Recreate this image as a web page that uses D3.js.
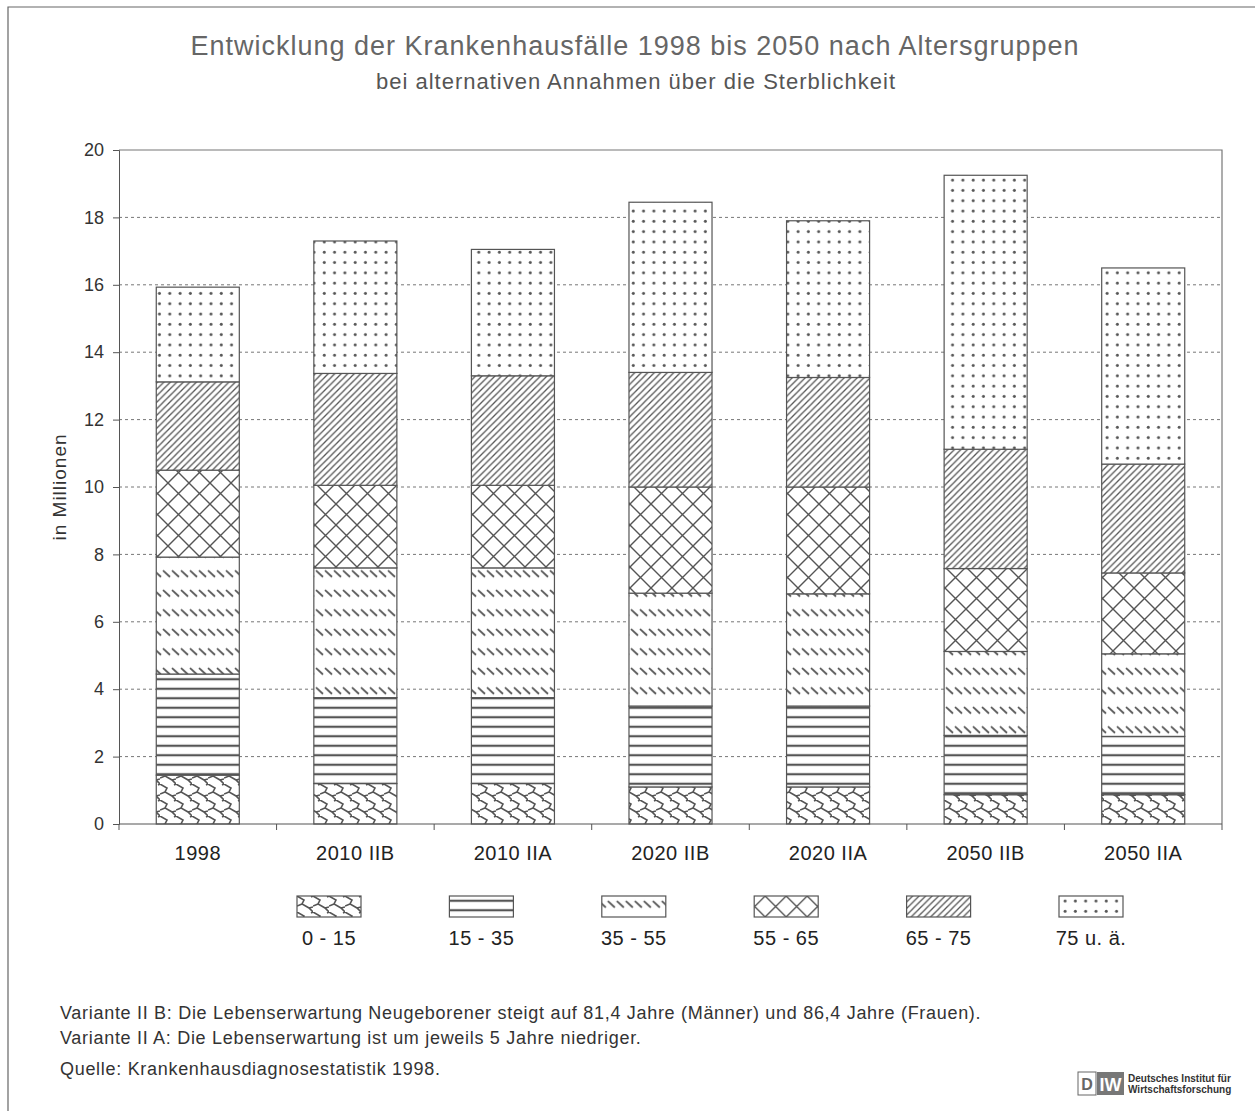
<!DOCTYPE html>
<html>
<head>
<meta charset="utf-8" />
<title>Krankenhausfälle nach Altersgruppen</title>
<style>
body { margin: 0; background: #fff; }
text { font-family: "Liberation Sans", Arial, sans-serif; fill: #333; }
</style>
</head>
<body>
<div id="chart"></div>
<script src="https://d3js.org/d3.v7.min.js"></script>
<script>
(function(d3) {
	'use strict';

	// values in Mio. cases
	var categories = ['1998', '2010 IIB', '2010 IIA', '2020 IIB', '2020 IIA', '2050 IIB', '2050 IIA'];
	var ageGroups = ['0 - 15', '15 - 35', '35 - 55', '55 - 65', '65 - 75', '75 u. ä.'];
	var age0to15 = [1.45, 1.2, 1.2, 1.1, 1.1, 0.87, 0.87];
	var age15to35 = [3.0, 2.55, 2.55, 2.4, 2.4, 1.76, 1.73];
	var age35to55 = [3.47, 3.85, 3.85, 3.35, 3.33, 2.49, 2.45];
	var age55to65 = [2.58, 2.45, 2.45, 3.15, 3.17, 2.46, 2.4];
	var age65to75 = [2.62, 3.32, 3.25, 3.4, 3.25, 3.54, 3.23];
	var age75plus = [2.81, 3.93, 3.75, 5.05, 4.65, 8.13, 5.82];
	var yTicks = [0, 2, 4, 6, 8, 10, 12, 14, 16, 18, 20];

	var series = [age0to15, age15to35, age35to55, age55to65, age65to75, age75plus];
	var table = categories.map(function(c, i) {
		var row = { cat: c };
		ageGroups.forEach(function(g, j) { row[g] = series[j][i]; });
		return row;
	});

	var width = 1255, height = 1111;
	var margin = { left: 119, right: 33, top: 150, bottom: 287 };
	var ink = '#555';

	var svg = d3.select('#chart').append('svg')
		.attr('width', width).attr('height', height);

	// patterns
	var defs = svg.append('defs');
	function pattern(id, w, h) {
		var p = defs.append('pattern').attr('id', id)
			.attr('patternUnits', 'userSpaceOnUse')
			.attr('width', w).attr('height', h);
		p.append('rect').attr('width', w).attr('height', h).attr('fill', '#fff');
		return p;
	}
	var p0 = pattern('p0', 16, 16);
	p0.append('path').attr('d', 'M0,0 L7,4 L5,8 L12,12 L16,16 M5,8 L0,10 M12,12 L16,11 M16,0 L14,1')
		.attr('fill', 'none').attr('stroke', ink).attr('stroke-width', 1.6);
	var p1 = pattern('p1', 10, 9.5);
	p1.append('line').attr('x1', 0).attr('x2', 10).attr('y1', 4.75).attr('y2', 4.75)
		.attr('stroke', ink).attr('stroke-width', 2.2);
	var p2 = pattern('p2', 9, 19.5);
	p2.append('line').attr('x1', 1).attr('y1', 5).attr('x2', 8).attr('y2', 11.5)
		.attr('stroke', ink).attr('stroke-width', 1.8);
	var p3 = pattern('p3', 21, 21);
	p3.append('path').attr('d', 'M0,0 L21,21 M21,0 L0,21')
		.attr('stroke', ink).attr('stroke-width', 1.4);
	var p4 = pattern('p4', 6.5, 6.5);
	p4.append('path').attr('d', 'M-1,7.5 L7.5,-1 M-1,1 L1,-1 M5.5,7.5 L7.5,5.5')
		.attr('stroke', ink).attr('stroke-width', 1.3);
	var p5 = pattern('p5', 10.3, 10.3);
	p5.append('circle').attr('cx', 5).attr('cy', 5).attr('r', 1.5).attr('fill', ink);
	var fills = ['url(#p0)', 'url(#p1)', 'url(#p2)', 'url(#p3)', 'url(#p4)', 'url(#p5)'];

	// outer frame (top and left edge)
	svg.append('path').attr('d', 'M8,1111 L8,7 L1255,7')
		.attr('fill', 'none').attr('stroke', '#666').attr('stroke-width', 1.2);

	// titles
	svg.append('text').attr('x', 635).attr('y', 55).attr('text-anchor', 'middle')
		.style('font-size', '27px').style('letter-spacing', '1px').style('fill', '#666')
		.text('Entwicklung der Krankenhausfälle 1998 bis 2050 nach Altersgruppen');
	svg.append('text').attr('x', 636).attr('y', 89).attr('text-anchor', 'middle')
		.style('font-size', '22px').style('letter-spacing', '1px').style('fill', '#555')
		.text('bei alternativen Annahmen über die Sterblichkeit');

	var x = d3.scaleBand().domain(categories)
		.range([margin.left, width - margin.right]).paddingInner(0.473).paddingOuter(0.2365);
	var y = d3.scaleLinear().domain([0, 20]).range([height - margin.bottom, margin.top]);

	var plot = svg.append('g');

	// gridlines
	plot.selectAll('.grid').data(yTicks.filter(function(t) { return t > 0 && t < 20; }))
		.enter().append('line')
		.attr('x1', margin.left).attr('x2', width - margin.right)
		.attr('y1', function(d) { return y(d); }).attr('y2', function(d) { return y(d); })
		.attr('stroke', '#777').attr('stroke-dasharray', '3,3').attr('stroke-width', 1);

	// plot border top / right
	plot.append('path')
		.attr('d', 'M' + margin.left + ',' + y(20) + 'H' + (width - margin.right) + 'V' + y(0))
		.attr('fill', 'none').attr('stroke', '#777').attr('stroke-width', 1.2);

	// stacked bars
	var stack = d3.stack().keys(ageGroups)(table);
	stack.forEach(function(layer, j) {
		plot.append('g').selectAll('rect').data(layer).enter().append('rect')
			.attr('x', function(d) { return x(d.data.cat); })
			.attr('width', x.bandwidth())
			.attr('y', function(d) { return y(d[1]); })
			.attr('height', function(d) { return y(d[0]) - y(d[1]); })
			.attr('fill', fills[j])
			.attr('stroke', ink).attr('stroke-width', 1.2);
	});

	// y axis
	var yAxis = svg.append('g').attr('transform', 'translate(' + margin.left + ',0)')
		.call(d3.axisLeft(y).tickValues(yTicks).tickSize(6).tickPadding(9));
	yAxis.select('.domain').attr('stroke', '#555');
	yAxis.selectAll('.tick line').attr('stroke', '#555');
	yAxis.selectAll('text').style('font-size', '18px').style('fill', '#333');

	// x axis with ticks on band boundaries
	var xAxis = svg.append('g').attr('transform', 'translate(0,' + y(0) + ')');
	xAxis.append('line').attr('x1', margin.left).attr('x2', width - margin.right)
		.attr('stroke', '#555').attr('stroke-width', 1.2);
	var step = x.step();
	var bounds = d3.range(categories.length + 1).map(function(i) { return margin.left + i * step; });
	xAxis.selectAll('.xt').data(bounds).enter().append('line')
		.attr('x1', function(d) { return d; }).attr('x2', function(d) { return d; })
		.attr('y1', 0).attr('y2', 6).attr('stroke', '#555');
	xAxis.selectAll('.xl').data(categories).enter().append('text')
		.attr('x', function(d) { return x(d) + x.bandwidth() / 2; })
		.attr('y', 36).attr('text-anchor', 'middle')
		.style('font-size', '20px').style('letter-spacing', '0.5px').style('fill', '#222')
		.text(function(d) { return d; });

	// y axis title
	svg.append('text').attr('transform', 'translate(66,' + ((y(0) + y(20)) / 2) + ') rotate(-90)')
		.attr('text-anchor', 'middle').style('font-size', '19px').style('letter-spacing', '1px')
		.text('in Millionen');

	// legend
	var legendX = d3.scalePoint().domain(ageGroups).range([329, 1091]);
	var legend = svg.selectAll('.legend').data(ageGroups).enter().append('g')
		.attr('class', 'legend')
		.attr('transform', function(d) { return 'translate(' + legendX(d) + ',896)'; });
	legend.append('rect').attr('x', -32).attr('width', 64).attr('height', 21)
		.attr('fill', function(d, i) { return fills[i]; })
		.attr('stroke', ink).attr('stroke-width', 1.2);
	legend.append('text').attr('y', 49).attr('text-anchor', 'middle')
		.style('font-size', '20px').style('letter-spacing', '0.5px').style('fill', '#222')
		.text(function(d) { return d; });

	// notes
	var notes = [
		'Variante II B: Die Lebenserwartung Neugeborener steigt auf 81,4 Jahre (Männer) und 86,4 Jahre (Frauen).',
		'Variante II A: Die Lebenserwartung ist um jeweils 5 Jahre niedriger.',
		'Quelle: Krankenhausdiagnosestatistik 1998.'
	];
	var noteY = [1019, 1044, 1075];
	svg.selectAll('.note').data(notes).enter().append('text')
		.attr('x', 60).attr('y', function(d, i) { return noteY[i]; })
		.style('font-size', '18px').style('letter-spacing', '0.7px').style('fill', '#333')
		.text(function(d) { return d; });

	// DIW logo
	var logo = svg.append('g').attr('transform', 'translate(1078,1072)');
	logo.append('rect').attr('width', 18).attr('height', 23).attr('fill', '#fff').attr('stroke', '#666');
	logo.append('text').attr('x', 9).attr('y', 18).attr('text-anchor', 'middle')
		.style('font-size', '16px').style('font-weight', 'bold').style('fill', '#666').text('D');
	logo.append('rect').attr('x', 19).attr('width', 27).attr('height', 23).attr('fill', '#777');
	logo.append('text').attr('x', 32.5).attr('y', 19).attr('text-anchor', 'middle')
		.style('font-size', '18px').style('font-weight', 'bold').style('fill', '#fff').text('IW');
	logo.append('text').attr('x', 50).attr('y', 10).style('font-size', '10px')
		.style('font-weight', 'bold').style('fill', '#333').text('Deutsches Institut für');
	logo.append('text').attr('x', 50).attr('y', 21).style('font-size', '10px')
		.style('font-weight', 'bold').style('fill', '#333').text('Wirtschaftsforschung');

})(window.d3);
</script>
</body>
</html>
